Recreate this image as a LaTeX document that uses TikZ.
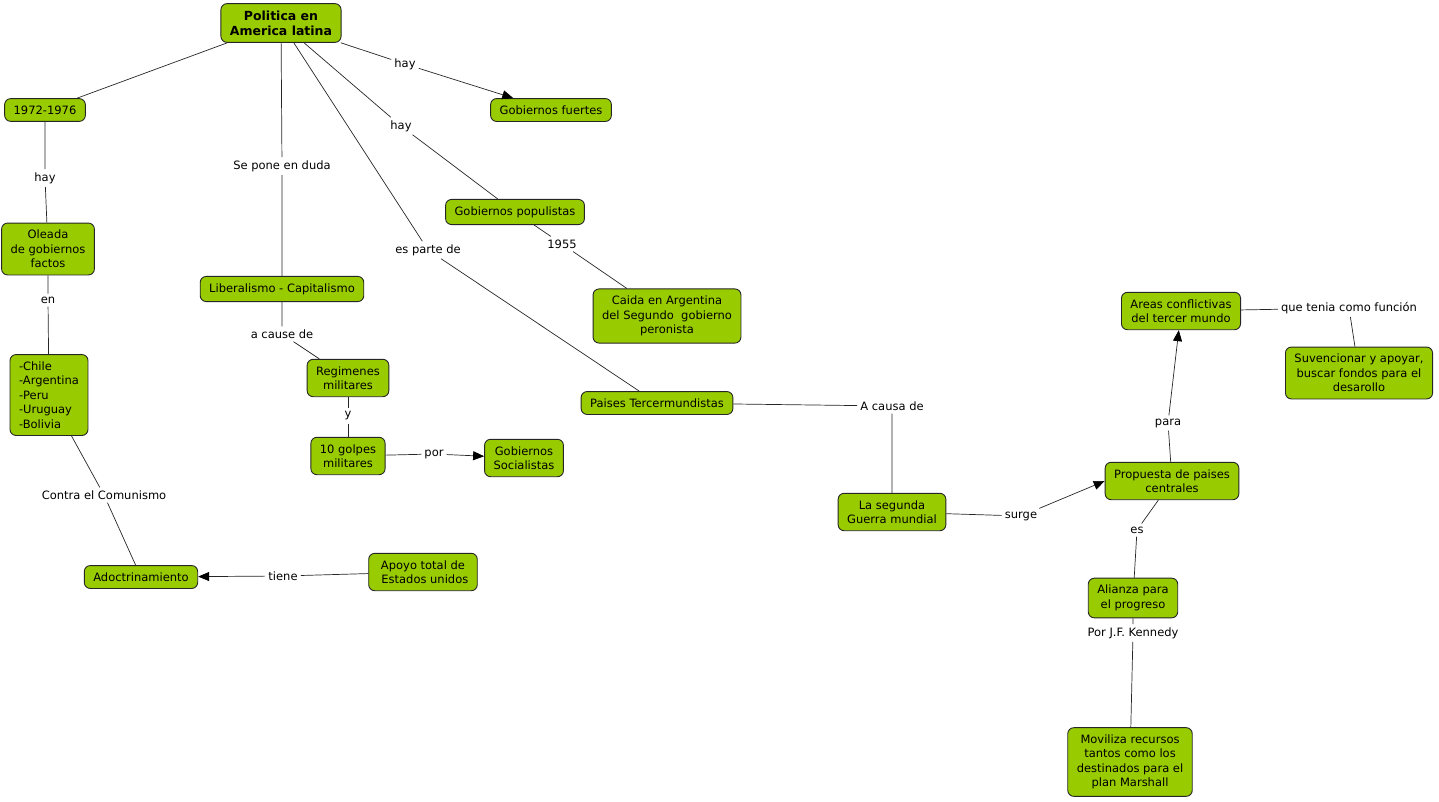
\documentclass[tikz,border=0pt]{standalone}
\usepackage{fontspec}
\setmainfont{DejaVu Sans}
\usetikzlibrary{arrows.meta}
\definecolor{verdeconcepto}{RGB}{153,204,0}

\begin{document}
\begin{tikzpicture}[x=1pt, y=-1pt,
    concepto/.style={draw=black!85, line width=0.9pt, fill=verdeconcepto, rounded corners=6pt, align=center,
        inner xsep=9pt, inner ysep=7pt, font=\fontsize{11.5}{14.5}\selectfont},
    enlace/.style={inner sep=3pt, font=\fontsize{11.5}{14.5}\selectfont},
    linea/.style={draw=black!85, line width=0.7pt},
    flecha/.style={linea, -{Triangle[length=11pt, width=9pt, fill=black, color=black]}}]
    \useasboundingbox (0,0) rectangle (1439,801);

    % Conceptos
    \node[concepto, font=\fontsize{12.5}{15}\selectfont\bfseries] (politica) at (281,23) {Politica en\\America latina};
    \node[concepto] (anios) at (45,110) {1972-1976};
    \node[concepto] (fuertes) at (551,110) {Gobiernos fuertes};
    \node[concepto] (populistas) at (515,212) {Gobiernos populistas};
    \node[concepto] (oleada) at (48,249) {Oleada\\de gobiernos\\factos};
    \node[concepto] (liberalismo) at (282,289) {Liberalismo - Capitalismo};
    \node[concepto] (caida) at (667,316) {Caida en Argentina\\del Segundo\ \ gobierno\\peronista};
    \node[concepto] (paises) at (657,403) {Paises Tercermundistas};
    \node[concepto, align=left] (lista) at (49,395) {-Chile\\-Argentina\\-Peru\\-Uruguay\\-Bolivia};
    \node[concepto] (regimenes) at (348,378) {Regimenes\\militares};
    \node[concepto] (golpes) at (348,456) {10 golpes\\militares};
    \node[concepto] (socialistas) at (524,458) {Gobiernos\\Socialistas};
    \node[concepto] (adoctrina) at (141,577) {Adoctrinamiento};
    \node[concepto] (apoyo) at (423,572) {Apoyo total de\\\ Estados unidos};
    \node[concepto] (areas) at (1181,311) {Areas conflictivas\\del tercer mundo};
    \node[concepto] (suvencionar) at (1359,373) {Suvencionar y apoyar,\\buscar fondos para el\\desarollo};
    \node[concepto] (guerra) at (892,512) {La segunda\\Guerra mundial};
    \node[concepto] (propuesta) at (1172,481) {Propuesta de paises\\centrales};
    \node[concepto] (alianza) at (1133,598) {Alianza para\\el progreso};
    \node[concepto] (moviliza) at (1130,762) {Moviliza recursos\\tantos como los\\destinados para el\\plan Marshall};

    % Frases de enlace
    \node[enlace] (hayA) at (405,64) {hay};
    \node[enlace] (hayB) at (401,126) {hay};
    \node[enlace] (duda) at (282,166) {Se pone en duda};
    \node[enlace] (parte) at (428,250) {es parte de};
    \node[enlace] (hayC) at (45,178) {hay};
    \node[enlace] (en) at (48,300) {en};
    \node[enlace] (anio) at (562,244) {1955};
    \node[enlace] (cause) at (282,334) {a cause de};
    \node[enlace] (y) at (348,416) {y};
    \node[enlace] (por) at (434,454) {por};
    \node[enlace] (contra) at (104,495) {Contra el Comunismo};
    \node[enlace] (tiene) at (283,576) {tiene};
    \node[enlace] (causa) at (892,406) {A causa de};
    \node[enlace] (surge) at (1021,516) {surge};
    \node[enlace] (para) at (1168,423) {para};
    \node[enlace] (es) at (1137,530) {es};
    \node[enlace] (kennedy) at (1133,633) {Por J.F. Kennedy};
    \node[enlace] (funcion) at (1349,308) {que tenia como función};

    % Conexiones
    \draw[linea] (politica) -- (anios);
    \draw[linea] (politica) -- (hayA);
    \draw[flecha] (hayA) -- (fuertes);
    \draw[linea] (politica) -- (hayB) -- (populistas);
    \draw[linea] (politica) -- (duda) -- (liberalismo);
    \draw[linea] (politica) -- (parte) -- (paises);
    \draw[linea] (anios) -- (hayC) -- (oleada);
    \draw[linea] (oleada) -- (en) -- (lista);
    \draw[linea] (populistas) -- (anio) -- (caida);
    \draw[linea] (liberalismo) -- (cause) -- (regimenes);
    \draw[linea] (regimenes) -- (y) -- (golpes);
    \draw[linea] (golpes) -- (por);
    \draw[flecha] (por) -- (socialistas);
    \draw[linea] (lista) -- (contra) -- (adoctrina);
    \draw[linea] (apoyo) -- (tiene);
    \draw[flecha] (tiene) -- (adoctrina);
    \draw[linea] (paises) -- (causa) -- (guerra);
    \draw[linea] (guerra) -- (surge);
    \draw[flecha] (surge) -- (propuesta.west);
    \draw[linea] (propuesta) -- (para);
    \draw[flecha] (para) -- (areas);
    \draw[linea] (propuesta) -- (es) -- (alianza);
    \draw[linea] (alianza) -- (kennedy) -- (moviliza);
    \draw[linea] (areas) -- (funcion) -- (suvencionar);

\end{tikzpicture}
\end{document}
